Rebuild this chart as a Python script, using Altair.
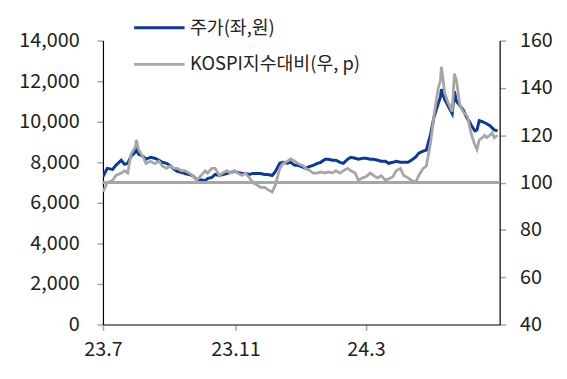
import altair as alt
import pandas as pd

dates = [
    "2023-07-01", "2023-07-03", "2023-07-05", "2023-07-10", "2023-07-13", "2023-07-18",
    "2023-07-21", "2023-07-24", "2023-07-27", "2023-07-31", "2023-08-01", "2023-08-03",
    "2023-08-07", "2023-08-10", "2023-08-14", "2023-08-18", "2023-08-22", "2023-08-25",
    "2023-08-29", "2023-09-01", "2023-09-05", "2023-09-08", "2023-09-12", "2023-09-15",
    "2023-09-19", "2023-09-22", "2023-09-26", "2023-10-04", "2023-10-06", "2023-10-10",
    "2023-10-13", "2023-10-17", "2023-10-20", "2023-10-24", "2023-10-27", "2023-10-31",
    "2023-11-03", "2023-11-07", "2023-11-10", "2023-11-14", "2023-11-17", "2023-11-21",
    "2023-11-24", "2023-11-28", "2023-12-01", "2023-12-05", "2023-12-08", "2023-12-12",
    "2023-12-15", "2023-12-19", "2023-12-22", "2023-12-26", "2023-12-29", "2024-01-03",
    "2024-01-05", "2024-01-09", "2024-01-12", "2024-01-16", "2024-01-19", "2024-01-23",
    "2024-01-26", "2024-01-30", "2024-02-02", "2024-02-06", "2024-02-09", "2024-02-13",
    "2024-02-16", "2024-02-20", "2024-02-23", "2024-02-27", "2024-03-01", "2024-03-05",
    "2024-03-08", "2024-03-12", "2024-03-15", "2024-03-19", "2024-03-22", "2024-03-26",
    "2024-03-29", "2024-04-02", "2024-04-05", "2024-04-09", "2024-04-12", "2024-04-16",
    "2024-04-19", "2024-04-23", "2024-04-26", "2024-04-30", "2024-05-03", "2024-05-07",
    "2024-05-09", "2024-05-10", "2024-05-13", "2024-05-16", "2024-05-20", "2024-05-22",
    "2024-05-24", "2024-05-27", "2024-05-30", "2024-06-03", "2024-06-05", "2024-06-07",
    "2024-06-10", "2024-06-12", "2024-06-14", "2024-06-17", "2024-06-19", "2024-06-21",
    "2024-06-24", "2024-06-26", "2024-06-28", "2024-07-01",
]

price = [
    7300, 7500, 7700, 7650, 7850, 8100,
    7900, 7950, 8300, 8500, 8700, 8400,
    8300, 8150, 8250, 8200, 8100, 8000,
    7950, 7850, 7650, 7550, 7500, 7450,
    7400, 7350, 7150, 7100, 7200, 7250,
    7400, 7350, 7400, 7450, 7500, 7550,
    7500, 7450, 7450, 7400, 7450, 7450,
    7450, 7400, 7400, 7350, 7550, 7950,
    8000, 7950, 8000, 7850, 7850, 7750,
    7700, 7800, 7850, 7950, 8000, 8150,
    8150, 8100, 8100, 8000, 7950, 8150,
    8250, 8200, 8150, 8200, 8200, 8150,
    8150, 8100, 8050, 8050, 7950, 8000,
    8050, 8000, 8000, 8000, 8100, 8250,
    8450, 8550, 8600, 9400, 10200, 10900,
    11200, 11600, 11100, 10800, 10400, 11500,
    11000, 10800, 10600, 10150, 10000, 9800,
    9550, 9600, 10050, 10000, 9950, 9900,
    9800, 9700, 9600, 9550,
]

rel = [
    96, 98, 100, 101, 103, 104,
    105, 104, 112, 115, 118, 114,
    111, 108, 109, 108, 109, 107,
    106, 107, 106, 106, 105, 105,
    104, 103, 101, 105, 104, 106,
    106, 103, 104, 105, 104, 105,
    104, 103, 104, 102, 100, 99,
    98, 98, 97, 96, 99, 106,
    108, 109, 110, 109, 108, 107,
    106, 105, 104, 104, 104.5, 104,
    104.5, 104, 105, 104, 105, 106,
    105, 104, 101, 102, 102.5, 104,
    103, 102, 103, 101, 101.5, 102.5,
    105, 106, 103, 102, 101, 100,
    103, 106, 107, 117, 128, 140,
    143, 149, 138, 134, 130, 146,
    143, 133, 130, 128, 124, 120,
    116, 114, 118, 119, 120, 119,
    120, 121, 119, 120,
]

series_names = ["주가(좌,원)", "KOSPI지수대비(우, p)"]
series_colors = ["#0a3a96", "#a6a6a6"]
left_ticks = [0, 2000, 4000, 6000, 8000, 10000, 12000, 14000]
right_ticks = [40, 60, 80, 100, 120, 140, 160]
base_level = 100

df = pd.DataFrame({"date": dates, "price": price, "rel": rel})

FONT = "Noto Sans CJK KR"

x_enc = alt.X(
    "date:T",
    scale=alt.Scale(type="utc",
                    domain=[alt.DateTime(year=2023, month=7, date=1, utc=True),
                            alt.DateTime(year=2024, month=7, date=3, utc=True)]),
    axis=alt.Axis(
        title=None,
        values=[alt.DateTime(year=2023, month=7, date=1, utc=True),
                alt.DateTime(year=2023, month=11, date=1, utc=True),
                alt.DateTime(year=2024, month=3, date=1, utc=True)],
        labelExpr="utcFormat(datum.value, '%y') + '.' + (utcmonth(datum.value) + 1)",
        labelPadding=9, labelFlush=False,
    ),
)

color_enc = alt.Color(
    "series:N",
    scale=alt.Scale(domain=series_names, range=series_colors),
    legend=alt.Legend(
        title=None, orient="none", legendX=30, legendY=-40,
        symbolType="stroke", symbolSize=2600, symbolStrokeWidth=3,
        labelFontSize=18.5, labelFont=FONT, labelColor="#222222",
        labelLimit=400,
        rowPadding=-11, labelOffset=4, direction="vertical",
    ),
)

blue = alt.Chart(df).transform_calculate(series=f"'{series_names[0]}'").mark_line(
    strokeWidth=3, clip=True
).encode(
    x=x_enc,
    y=alt.Y("price:Q", scale=alt.Scale(domain=[0, 14000]),
            axis=alt.Axis(title=None, values=left_ticks,
                          labelExpr="format(datum.value, ',')",
                          labelPadding=18, orient="left")),
    color=color_enc,
)

gray = alt.Chart(df).transform_calculate(series=f"'{series_names[1]}'").mark_line(
    strokeWidth=2.8, clip=True
).encode(
    x=x_enc,
    y=alt.Y("rel:Q", scale=alt.Scale(domain=[40, 160]),
            axis=alt.Axis(title=None, values=right_ticks,
                          labelPadding=14, orient="right")),
    color=color_enc,
)

rule = alt.Chart(df).mark_rule(color="#a6a6a6", strokeWidth=2.5).encode(
    y=alt.Y(datum=base_level, scale=alt.Scale(domain=[40, 160]), axis=None),
)

chart = alt.layer(blue, gray, rule).resolve_scale(y="independent").properties(
    width=401, height=287,
    autosize=alt.AutoSizeParams(type="none"),
    padding={"left": 96, "top": 31, "right": 60, "bottom": 45},
).configure_view(stroke=None).configure_axis(
    grid=False, domainColor="#000000", domainWidth=1.2,
    tickColor="#a6a6a6", tickSize=6, tickWidth=1.5,
    labelFontSize=20, labelFont=FONT, labelColor="#222222",
)

chart.save("out.html", embed_options={"renderer": "svg", "actions": False})
